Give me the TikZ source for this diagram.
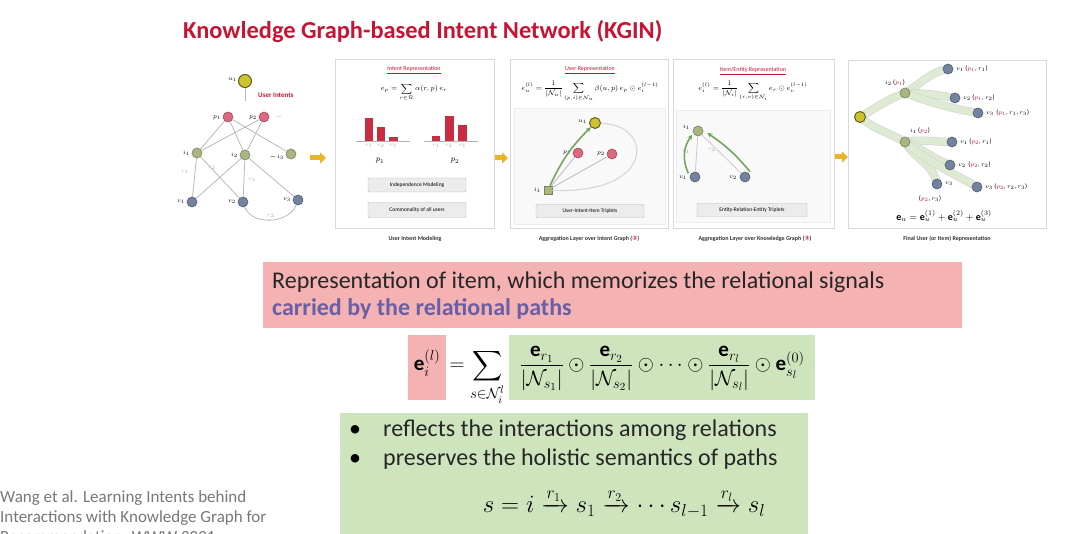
\documentclass[tikz,border=0pt]{standalone}
\usepackage{amsmath,amssymb}
\usepackage{fontspec}
\setmainfont{Carlito}
\newfontfamily\symfont{DejaVu Sans}
\usetikzlibrary{arrows.meta}
\definecolor{titlered}{RGB}{200,20,50}
\definecolor{pinkbox}{RGB}{245,178,178}
\definecolor{greenbox}{RGB}{205,228,188}
\definecolor{pathblue}{RGB}{105,95,165}
\definecolor{citegrey}{RGB}{120,120,120}
\definecolor{arrowgold}{RGB}{232,180,40}
\definecolor{uyel}{RGB}{205,195,45}
\definecolor{ppink}{RGB}{220,105,125}
\definecolor{igreen}{RGB}{170,182,130}
\definecolor{vblue}{RGB}{115,130,158}
\definecolor{ribboncol}{RGB}{222,235,210}
\definecolor{barred}{RGB}{200,45,65}
\definecolor{garrowcol}{RGB}{115,165,95}
\tikzset{
  panel/.style={draw=gray!30, fill=white, line width=0.6pt},
  innerbox/.style={draw=gray!15, fill=gray!5, line width=0.5pt},
  btn/.style={draw=gray!55, fill=gray!15, font=\fontsize{5.5}{6}\selectfont, inner sep=1.5pt, rounded corners=1pt},
  captxt/.style={font=\fontsize{6}{7}\selectfont\bfseries, text=black!80, inner sep=0pt},
  ptitle/.style={font=\fontsize{6}{7}\selectfont, text=titlered, inner sep=0pt},
  fml/.style={inner sep=0pt},
  lbl/.style={font=\fontsize{6.5}{7}\selectfont, inner sep=0pt},
  rlbl/.style={font=\fontsize{5.5}{6}\selectfont, text=gray!70, inner sep=0pt},
  unode/.style={circle, fill=uyel, draw=olive!60!black, minimum size=11pt, inner sep=0pt, line width=1pt},
  pnode/.style={circle, fill=ppink, draw=ppink!70!black, minimum size=10pt, inner sep=0pt, line width=0.6pt},
  inode/.style={circle, fill=igreen, draw=igreen!70!black, minimum size=10pt, inner sep=0pt, line width=0.6pt},
  vnode/.style={circle, fill=vblue, draw=vblue!70!black, minimum size=10pt, inner sep=0pt, line width=0.6pt},
  edge/.style={draw=gray!55, line width=0.8pt},
  garrow/.style={draw=garrowcol, line width=1.6pt, -{Stealth[length=5pt,width=5pt]}},
  bigarrow/.style={draw=arrowgold, line width=5pt, -{Triangle[length=6pt,width=11pt]}},
  tube/.style={draw=gray!35, double=ribboncol, double distance=7pt, line width=0.6pt},
  big/.style={font=\fontsize{24}{29}\selectfont, inner sep=0pt},
  mathbig/.style={font=\fontsize{21}{25}\selectfont},
  mathpath/.style={font=\fontsize{25}{30}\selectfont}
}
\begin{document}
\begin{tikzpicture}[x=1pt,y=-1pt]
\useasboundingbox (0,0) rectangle (1080,534);
\clip (0,0) rectangle (1080,534);
\fill[white] (0,0) rectangle (1080,534);

% ---------- title
\node[anchor=west, font=\fontsize{24.4}{29}\selectfont\bfseries, text=titlered, inner sep=0pt] (title) at (183,32) {Knowledge Graph-based Intent Network (KGIN)};

% ---------- panel 1 : user intent graph
\node[unode, minimum size=13pt] (u1) at (245,81) {};
\node[lbl, anchor=east] (lu1) at (237,80) {$u_1$};
\coordinate (u1s) at (245,101);
\draw[edge] (u1) -- (u1s);
\node[lbl, anchor=west, text=titlered, font=\fontsize{7}{8}\selectfont\bfseries] (ui) at (258,95) {User Intents};
\node[pnode] (p1) at (228,117) {};
\node[pnode] (p2) at (264,117) {};
\node[lbl, anchor=east] (lp1) at (221,118) {$p_1$};
\node[lbl, anchor=east] (lp2) at (257,118) {$p_2$};
\node[lbl, anchor=west, text=gray!60] (lpd) at (276,117) {---};
\node[inode] (i1) at (197,153) {};
\node[inode] (i2) at (245,155) {};
\node[inode] (i3) at (291,154) {};
\node[lbl, anchor=east] (li1) at (190,153) {$i_1$};
\node[lbl, anchor=east] (li2) at (238,155) {$i_2$};
\node[lbl, anchor=east] (li3) at (284,157) {--- $i_3$};
\node[vnode] (v1) at (192,202) {};
\node[vnode] (v2) at (243,202) {};
\node[vnode] (v3) at (298,200) {};
\node[lbl, anchor=east] (lv1) at (185,202) {$v_1$};
\node[lbl, anchor=east] (lv2) at (236,202) {$v_2$};
\node[lbl, anchor=east] (lv3) at (291,200) {$v_3$};
\draw[edge] (p1) -- (i1);
\draw[edge] (p1) -- (i2);
\draw[edge] (p1) -- (i3);
\draw[edge] (p2) -- (i1);
\draw[edge] (p2) -- (i2);
\draw[edge] (i1) -- (v1);
\draw[edge] (i1) -- (v2);
\draw[edge] (i2) -- (v1);
\draw[edge] (i2) -- (v2);
\draw[edge] (i2) -- (v3);
\draw[edge] (v2) to[out=-70,in=-110] (v3);
\node[rlbl] (r11) at (185,172) {$r_1$};
\node[rlbl] (r12) at (212,168) {$r_2$};
\node[rlbl] (r13) at (252,180) {$r_3$};
\node[rlbl] (r14) at (271,216) {$r_2$};

% ---------- arrows between panels
\coordinate (a1s) at (310,158); \coordinate (a1e) at (326,158);
\draw[bigarrow] (a1s) -- (a1e);
\coordinate (a2s) at (492,158); \coordinate (a2e) at (508,158);
\draw[bigarrow] (a2s) -- (a2e);
\coordinate (a3s) at (832,157); \coordinate (a3e) at (848,157);
\draw[bigarrow] (a3s) -- (a3e);

% ---------- panel 2 : intent representation
\draw[panel] (335,59) rectangle (494,228);
\node[ptitle] (t2) at (414,70) {\underline{Intent Representation}};
\node[fml, font=\fontsize{7}{8}\selectfont] (f2) at (414,92) {$\displaystyle e_p=\sum_{r\in\mathcal{R}}\alpha(r,p)\,e_r$};
\draw[gray!60, line width=0.6pt] (356,141) -- (410,141);
\fill[barred] (365,118) rectangle (373,141);
\fill[barred] (377,127) rectangle (385,141);
\fill[barred] (389,137) rectangle (398,141);
\node[rlbl] (b1a) at (369,146) {$r_1$};
\node[rlbl] (b1b) at (381,146) {$r_2$};
\node[rlbl] (b1c) at (393,146) {$r_3$};
\node[lbl, font=\fontsize{8}{9}\selectfont] (lbp1) at (380,161) {$p_1$};
\draw[gray!60, line width=0.6pt] (424,141) -- (478,141);
\fill[barred] (432,136) rectangle (440,141);
\fill[barred] (445,116) rectangle (454,141);
\fill[barred] (458,125) rectangle (467,141);
\node[rlbl] (b2a) at (436,146) {$r_1$};
\node[rlbl] (b2b) at (449,146) {$r_2$};
\node[rlbl] (b2c) at (462,146) {$r_3$};
\node[lbl, font=\fontsize{8}{9}\selectfont] (lbp2) at (455,161) {$p_2$};
\node[btn, minimum width=98pt, minimum height=14pt] (bt1) at (417,185) {Independence Modeling};
\node[btn, minimum width=98pt, minimum height=15pt] (bt2) at (417,210) {Commonality of all users};
\node[captxt] (c2) at (415,239) {User Intent Modeling};

% ---------- panel 3 : user representation
\draw[panel] (510,59) rectangle (668,228);
\draw[innerbox] (514,108) rectangle (665,224);
\node[ptitle] (t3) at (590,70) {\underline{User Representation}};
\node[fml, font=\fontsize{7}{8}\selectfont] (f3) at (590,91) {$\displaystyle e_u^{(l)}=\frac{1}{|\mathcal{N}_u|}\sum_{(p,i)\in\mathcal{N}_u}\beta(u,p)\,e_p\odot e_i^{(l-1)}$};
\node[unode] (u1b) at (595,123) {};
\node[lbl, anchor=east] (lu1b) at (587,122) {$u_1$};
\node[pnode] (p1b) at (578,153) {};
\node[pnode] (p2b) at (612,154) {};
\node[lbl, anchor=east] (lp1b) at (571,153) {$p_1$};
\node[lbl, anchor=east] (lp2b) at (605,154) {$p_2$};
\node[inode, rectangle, minimum size=8pt] (i1b) at (548,190) {};
\node[lbl, anchor=east] (li1b) at (541,190) {$i_1$};
\draw[gray!30, line width=1.2pt] (u1b) .. controls (655,125) and (655,195) .. (i1b);
\draw[edge] (i1b) -- (p1b);
\draw[edge] (i1b) -- (p2b);
\draw[garrow] (i1b) to[bend left=10] (u1b);
\node[btn, minimum width=108pt, minimum height=13pt] (bt3) at (590,211) {User-Intent-Item Triplets};
\node[captxt] (c3) at (589,239) {Aggregation Layer over Intent Graph ({\color{titlered}\symfont ②})};

% ---------- panel 4 : item/entity representation
\draw[panel] (673,59) rectangle (834,228);
\draw[innerbox] (676,110) rectangle (830,222);
\node[ptitle] (t4) at (753,71) {\underline{Item/Entity Representation}};
\node[fml, font=\fontsize{7}{8}\selectfont] (f4) at (753,91) {$\displaystyle e_i^{(l)}=\frac{1}{|\mathcal{N}_i|}\sum_{(r,v)\in\mathcal{N}_i}e_r\odot e_v^{(l-1)}$};
\node[inode] (i1c) at (698,131) {};
\node[lbl, anchor=east] (li1c) at (690,127) {$i_1$};
\node[vnode] (v1c) at (695,177) {};
\node[vnode] (v2c) at (745,177) {};
\node[lbl, anchor=east] (lv1c) at (687,178) {$v_1$};
\node[lbl, anchor=east] (lv2c) at (737,178) {$v_2$};
\draw[edge, gray!40] (i1c) -- (v1c);
\draw[edge, gray!40] (i1c) -- (v2c);
\draw[garrow] ([xshift=-3pt]v1c.north west) to[bend left=30] ([xshift=-2pt]i1c.south west);
\draw[garrow] ([xshift=5pt]v2c.north) to[bend right=8] ([xshift=4pt,yshift=-2pt]i1c.east);
\node[rlbl] (r41) at (686,152) {$r_1$};
\node[rlbl] (r42) at (712,150) {$r_2$};
\node[btn, minimum width=110pt, minimum height=13pt] (bt4) at (752,210) {Entity-Relation-Entity Triplets};
\node[captxt] (c4) at (755,239) {Aggregation Layer over Knowledge Graph ({\color{titlered}\symfont ③})};

% ---------- panel 5 : final representation
\draw[panel] (848,60) rectangle (1046,228);
\coordinate (root) at (860,117);
\coordinate (i2d) at (905,93);
\coordinate (i1d) at (905,142);
\coordinate (w1) at (948,69);
\coordinate (w2) at (955,98);
\coordinate (w3) at (978,113);
\coordinate (w4) at (952,142);
\coordinate (w5) at (950,165);
\coordinate (w6) at (937,184);
\coordinate (w7) at (977,187);
\draw[tube] (root) to[out=30,in=200] (i2d);
\draw[tube] (root) to[out=-40,in=150] (i1d);
\draw[tube] (i2d) to[out=30,in=190] (w1);
\draw[tube] (i2d) to[out=0,in=170] (w2);
\draw[tube] (i2d) to[out=-20,in=170] (w3);
\draw[tube] (i1d) to[out=10,in=180] (w4);
\draw[tube] (i1d) to[out=-20,in=160] (w5);
\draw[tube] (i1d) to[out=-60,in=100] (w6);
\draw[tube] (i1d) to[out=-40,in=150] (w7);
\node[unode] (rootn) at (root) {};
\node[inode] (i2dn) at (i2d) {};
\node[inode] (i1dn) at (i1d) {};
\node[vnode] (w1n) at (w1) {};
\node[vnode] (w2n) at (w2) {};
\node[vnode] (w3n) at (w3) {};
\node[vnode] (w4n) at (w4) {};
\node[vnode] (w5n) at (w5) {};
\node[vnode] (w6n) at (w6) {};
\node[vnode] (w7n) at (w7) {};
\node[lbl, anchor=south] (li2d) at (895,86) {$i_2$ ({\color{titlered}$p_1$})};
\node[lbl, anchor=south] (li1d) at (920,134) {$i_1$ ({\color{titlered}$p_2$})};
\node[lbl, anchor=west] (lw1) at (956,69) {$v_1$ ({\color{titlered}$p_1$}, $r_1$)};
\node[lbl, anchor=west] (lw2) at (963,98) {$v_2$ ({\color{titlered}$p_1$}, $r_2$)};
\node[lbl, anchor=west] (lw3) at (986,113) {$v_3$ \,({\color{titlered}$p_1$}, $r_1$, $r_3$)};
\node[lbl, anchor=west] (lw4) at (960,142) {$v_1$ ({\color{titlered}$p_2$}, $r_1$)};
\node[lbl, anchor=west] (lw5) at (958,165) {$v_2$ \,({\color{titlered}$p_2$}, $r_2$)};
\node[lbl, anchor=west] (lw6) at (945,184) {$v_3$};
\node[lbl] (lw6b) at (930,199) {({\color{titlered}$p_2$}, $r_3$)};
\node[lbl, anchor=west] (lw7) at (985,187) {$v_3$ ({\color{titlered}$p_2$}, $r_2$, $r_3$)};
\node[fml, font=\fontsize{10}{12}\selectfont] (f5) at (944,216) {$\mathbf{e}_u=\mathbf{e}_u^{(1)}+\mathbf{e}_u^{(2)}+\mathbf{e}_u^{(3)}$};
\node[captxt] (c5) at (947,239) {Final User (or Item) Representation};

% ---------- pink statement box
\fill[pinkbox] (263,262) rectangle (962,328);
\node[big, anchor=base west, text=black!85] (pt1) at (272,289) {Representation of item, which memorizes the relational signals};
\node[big, anchor=base west, text=pathblue, font=\fontsize{24}{29}\selectfont\bfseries] (pt2) at (272,316) {carried by the relational paths};

% ---------- main formula
\node[mathbig, fill=pinkbox, inner sep=0pt, text height=36pt, text depth=29pt, minimum width=38pt, anchor=base west] (fe) at (408,371) {$\mathbf{e}_i^{(l)}$};
\node[mathbig, inner sep=0pt, anchor=base west] (fs) at ([xshift=3pt]fe.base east) {$=\displaystyle\sum_{s\in\mathcal{N}_i^l}$};
\node[mathbig, fill=greenbox, inner sep=0pt, text height=36pt, text depth=29pt, minimum width=306pt, anchor=base west] (ff) at (509,371) {$\displaystyle\frac{\mathbf{e}_{r_1}}{|\mathcal{N}_{s_1}|}\odot\frac{\mathbf{e}_{r_2}}{|\mathcal{N}_{s_2}|}\odot\cdots\odot\frac{\mathbf{e}_{r_l}}{|\mathcal{N}_{s_l}|}\odot\mathbf{e}_{s_l}^{(0)}$};

% ---------- green bullet box
\fill[greenbox] (340,413) rectangle (808,540);
\node[big, anchor=base] (bu1) at (355,437) {\textbullet};
\node[big, anchor=base] (bu2) at (355,466) {\textbullet};
\node[big, anchor=base west, text=black!85] (bt1t) at (383,437) {reflects the interactions among relations};
\node[big, anchor=base west, text=black!85] (bt2t) at (383,466) {preserves the holistic semantics of paths};
\node[mathpath, inner sep=0pt, anchor=base] (pf) at (624,513) {$s = i \xrightarrow{r_1} s_1 \xrightarrow{r_2} \cdots s_{l-1} \xrightarrow{r_l} s_l$};

% ---------- citation
\node[anchor=base west, font=\fontsize{17}{20}\selectfont, text=citegrey, inner sep=0pt] (cite1) at (0,503) {Wang et al. Learning Intents behind};
\node[anchor=base west, font=\fontsize{17}{20}\selectfont, text=citegrey, inner sep=0pt] (cite2) at (0,523) {Interactions with Knowledge Graph for};
\node[anchor=base west, font=\fontsize{17}{20}\selectfont, text=citegrey, inner sep=0pt] (cite3) at (0,543) {Recommendation. WWW 2021.};
\end{tikzpicture}
\end{document}
